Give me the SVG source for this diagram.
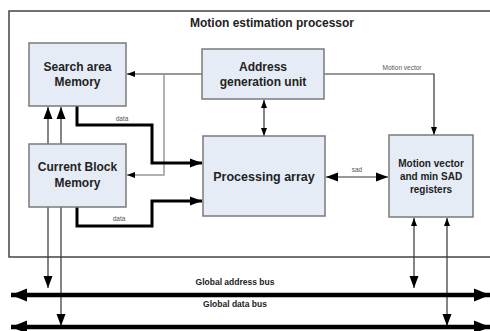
<svg xmlns="http://www.w3.org/2000/svg" width="490" height="331" viewBox="0 0 490 331">
<defs>
<style>
.box{fill:#e6ecf6;stroke:#7a7a7a;stroke-width:1.5}
.t{font-family:"Liberation Sans",Arial,sans-serif;font-weight:bold;fill:#222;text-anchor:middle}
.s{font-family:"Liberation Sans",Arial,sans-serif;fill:#555;text-anchor:middle;font-size:6.5px}
.thin{fill:none;stroke:#333;stroke-width:1.2}
.gray{fill:none;stroke:#999;stroke-width:1.5}
.thick{fill:none;stroke:#000;stroke-width:3}
.bus{fill:none;stroke:#000;stroke-width:4.5}
</style>
<marker id="a" markerUnits="userSpaceOnUse" markerWidth="8" markerHeight="8" viewBox="0 0 8 8" refX="8" refY="4" orient="auto-start-reverse"><path d="M0,1 L8,4 L0,7 Z" fill="#000"/></marker>
<marker id="b" markerUnits="userSpaceOnUse" markerWidth="12" markerHeight="12" viewBox="0 0 12 12" refX="12" refY="6" orient="auto-start-reverse"><path d="M0,1.5 L12,6 L0,10.5 Z" fill="#000"/></marker>
<marker id="c" markerUnits="userSpaceOnUse" markerWidth="16" markerHeight="14" viewBox="0 0 16 14" refX="16" refY="7" orient="auto-start-reverse"><path d="M0,0.5 L16,7 L0,13.5 Z" fill="#000"/></marker>
</defs>
<rect x="0" y="0" width="490" height="331" fill="#fff"/>
<rect x="9" y="11" width="490" height="246" fill="none" stroke="#444" stroke-width="1.5"/>
<text class="t" x="272" y="27" font-size="12">Motion estimation processor</text>

<g id="connectors">
<path class="thin" d="M202,74 H127" marker-end="url(#a)"/>
<path class="gray" d="M164,74 V175 H127" marker-end="url(#a)"/>
<path class="thick" d="M77,106 V125 H152 V163 H202" marker-end="url(#b)"/>
<path class="thick" d="M77,207 V226 H152 V201 H202" marker-end="url(#b)"/>
<path class="thin" d="M48,144 V107" marker-end="url(#b)" stroke="#000" stroke-width="1.8"/>
<path class="thin" d="M61,144 V107" marker-end="url(#b)" stroke="#555" stroke-width="1.8"/>
<path class="thin" d="M48,207 V288" marker-end="url(#b)" stroke="#000" stroke-width="1.5"/>
<path class="thin" d="M61,207 V326" marker-end="url(#b)" stroke="#555" stroke-width="1.5"/>
<path class="thin" d="M264,100 V136" marker-start="url(#a)" marker-end="url(#a)"/>
<path class="thin" d="M324,74 H434 V135" marker-end="url(#a)"/>
<path class="thin" d="M326,177 H388" stroke="#000" stroke-width="2.5" marker-start="url(#b)" marker-end="url(#b)"/>
<path class="thin" d="M414,218 V288" marker-start="url(#a)" marker-end="url(#b)" stroke="#111"/>
<path class="thin" d="M447,218 V326" marker-start="url(#a)" marker-end="url(#b)" stroke="#555"/>
<path class="bus" d="M11,295 H490" marker-start="url(#c)" marker-end="url(#c)"/>
<path class="bus" d="M11,327 H490" marker-start="url(#c)" marker-end="url(#c)"/>
<text class="s" x="122" y="121">data</text>
<text class="s" x="119" y="221">data</text>
<text class="s" x="402" y="70">Motion vector</text>
<text class="s" x="357" y="172">sad</text>
<text class="t" x="235" y="285" font-size="8.5">Global address bus</text>
<text class="t" x="235" y="307" font-size="8.5">Global data bus</text>
</g>

<g id="search">
<rect class="box" x="29" y="43" width="97" height="63"/>
<text class="t" x="77.5" y="71" font-size="12">Search area</text>
<text class="t" x="77.5" y="86" font-size="12">Memory</text>
</g>
<g id="addr">
<rect class="box" x="202" y="49" width="122" height="50"/>
<text class="t" x="263" y="71" font-size="12">Address</text>
<text class="t" x="263" y="86" font-size="12">generation unit</text>
</g>
<g id="current">
<rect class="box" x="29" y="144" width="97" height="63"/>
<text class="t" x="77.5" y="171" font-size="12">Current Block</text>
<text class="t" x="77.5" y="187" font-size="12">Memory</text>
</g>
<g id="proc">
<rect class="box" x="203" y="136" width="122" height="80"/>
<text class="t" x="264" y="181" font-size="12.5">Processing array</text>
</g>
<g id="mv">
<rect class="box" x="389" y="135" width="84" height="82"/>
<text class="t" x="431" y="167" font-size="10">Motion vector</text>
<text class="t" x="431" y="180" font-size="10">and min SAD</text>
<text class="t" x="431" y="193" font-size="10">registers</text>
</g>
</svg>
